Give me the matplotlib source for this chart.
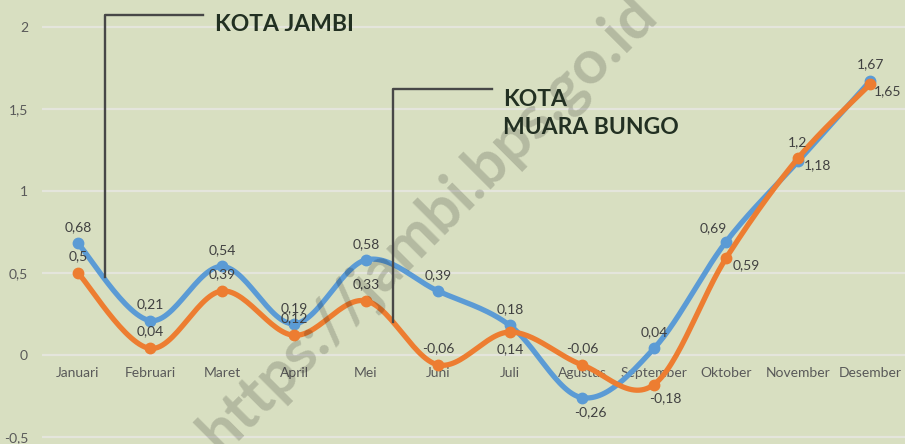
import numpy as np
import matplotlib
matplotlib.use("Agg")
import matplotlib.pyplot as plt

plt.rcParams['font.family'] = ['Lato', 'DejaVu Sans']

# data
months = ['Januari', 'Februari', 'Maret', 'April', 'Mei', 'Juni', 'Juli',
          'Agustus', 'September', 'Oktober', 'November', 'Desember']
kota_jambi = [0.68, 0.21, 0.54, 0.19, 0.58, 0.39, 0.18, -0.26, 0.04, 0.69, 1.18, 1.67]
muara_bungo = [0.50, 0.04, 0.39, 0.12, 0.33, -0.06, 0.14, -0.06, -0.18, 0.59, 1.20, 1.65]
y_ticks = [-0.5, 0, 0.5, 1, 1.5, 2]

# label offsets in pixels (dx, dy), default above the point
jambi_off = [(0, 16)] * 7 + [(8, -15), (0, 16), (-13, 14), (20, -4), (1, 17)]
bungo_off = [(0, 17)] * 6 + [(0, -17), (0, 17), (11, -14), (20, -7), (0, 16), (18, -7)]

BG = '#d8dfc1'
BLUE = '#5b9bd5'
ORANGE = '#ed7d31'


def fmt(v):
    s = ('%.2f' % v).rstrip('0').rstrip('.')
    return s.replace('.', ',')


def smooth(xs, ys, n=30):
    # Catmull-Rom style bezier, like spreadsheet "smoothed line"
    p = np.column_stack([xs, ys]).astype(float)
    pts = np.vstack([p[0], p, p[-1]])
    out = []
    t = np.linspace(0, 1, n)[:, None]
    for i in range(1, len(pts) - 2):
        p0, p1, p2, p3 = pts[i - 1], pts[i], pts[i + 1], pts[i + 2]
        b1 = p1 + (p2 - p0) / 6
        b2 = p2 - (p3 - p1) / 6
        seg = ((1 - t) ** 3) * p1 + 3 * ((1 - t) ** 2) * t * b1 + 3 * (1 - t) * t ** 2 * b2 + t ** 3 * p2
        out.append(seg if i == 1 else seg[1:])
    c = np.vstack(out)
    return c[:, 0], c[:, 1]


W, H = 905, 444
fig = plt.figure(figsize=(W / 100, H / 100), dpi=100)
fig.patch.set_facecolor(BG)
ax = fig.add_axes([42 / W, 0, 864 / W, 1])
ax.set_facecolor(BG)

x = np.arange(len(months))
ax.set_xlim(-0.5, len(months) - 0.5)
ax.set_ylim(-0.5427, 2.1646)

for v in y_ticks:
    ax.axhline(v, color='#e4e5dc', lw=1.6, zorder=1)

ax.set_yticks(y_ticks)
ax.set_yticklabels([fmt(v) for v in y_ticks], color='#595959', fontsize=10)
ax.tick_params(axis='y', length=0, pad=10)
ax.set_xticks([])
for s in ax.spines.values():
    s.set_visible(False)

for i, m in enumerate(months):
    ax.annotate(m, (i, 0), xytext=(0, -18), textcoords='offset pixels',
                ha='center', va='center', fontsize=10, color='#595959')

for vals, col, offs in [(kota_jambi, BLUE, jambi_off), (muara_bungo, ORANGE, bungo_off)]:
    sx, sy = smooth(x, vals)
    ax.plot(sx, sy, color=col, lw=3.8, solid_capstyle='round', zorder=3)
    ax.plot(x, vals, 'o', color=col, ms=7.5, zorder=3)
    for i, v in enumerate(vals):
        dx, dy = offs[i]
        ax.annotate(fmt(v), (i, v), xytext=(dx, dy), textcoords='offset pixels',
                    ha='center', va='center', fontsize=10, color='#404040', zorder=4)

# watermark
fig.text(428 / W, 1 - 224 / H, 'https://jambi.bps.go.id', fontsize=44, fontweight='bold',
         color='black', alpha=0.17, rotation=45, ha='center', va='center',
         rotation_mode='anchor', zorder=5)


# callout lines (figure pixel coordinates)
def fig_line(px, py):
    fig.add_artist(plt.Line2D([a / W for a in px], [1 - b / H for b in py],
                              color='#474747', lw=1.7, transform=fig.transFigure, zorder=20))


fig_line([105, 105, 203], [277, 15, 15])
fig_line([393, 393, 492], [322, 89, 89])

TITLE = '#223022'
fig.text(215 / W, 1 - 31 / H, 'KOTA JAMBI', fontsize=16.5, fontweight='bold',
         color=TITLE, ha='left', va='baseline', zorder=20)
fig.text(503 / W, 1 - 106 / H, 'KOTA', fontsize=16.5, fontweight='bold',
         color=TITLE, ha='left', va='baseline', zorder=20)
fig.text(503 / W, 1 - 134 / H, 'MUARA BUNGO', fontsize=16.5, fontweight='bold',
         color=TITLE, ha='left', va='baseline', zorder=20)

fig.savefig('out.png', dpi=100, facecolor=BG)
